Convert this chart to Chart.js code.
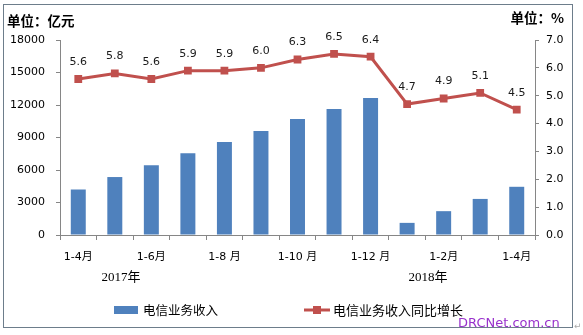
<!DOCTYPE html>
<html>
<head>
<meta charset="utf-8">
<script src="https://cdn.jsdelivr.net/npm/chart.js@4/dist/chart.umd.min.js"></script>
<style>
  body { margin: 0; background: #fff; }
</style>
</head>
<body>
<canvas id="telecomChart" width="583" height="335"></canvas>
<script>
// 累计月份
const months = ["1-4月", "1-5月", "1-6月", "1-7月", "1-8 月", "1-9月", "1-10 月", "1-11月", "1-12 月", "1月", "1-2月", "1-3月", "1-4月"];
// 电信业务收入（亿元）
const revenue = [4200, 5350, 6450, 7550, 8580, 9600, 10700, 11630, 12640, 1120, 2200, 3330, 4450];
// 同比增长（%）
const growth = [5.6, 5.8, 5.6, 5.9, 5.9, 6.0, 6.3, 6.5, 6.4, 4.7, 4.9, 5.1, 4.5];
// 坐标轴刻度
const leftTicks = [0, 3000, 6000, 9000, 12000, 15000, 18000];
const rightTicks = [0, 1, 2, 3, 4, 5, 6, 7];
// 年份标注
const years = [{ text: "2017年", at: 1.17 }, { text: "2018年", at: 9.57 }];

const BLUE = "#4F81BD";
const RED = "#C0504D";
const AXIS = "#868686";
const NUM_FONT = "'DejaVu Sans', 'Noto Sans CJK SC', sans-serif";
const CJK_FONT = "'Noto Sans CJK SC', sans-serif";

// 数据标签、年份、图例、边框等
const extras = {
  id: "extras",
  afterDatasetsDraw(chart) {
    const ctx = chart.ctx;
    const meta = chart.getDatasetMeta(0);
    ctx.save();
    ctx.fillStyle = "#1a1a1a";
    ctx.font = "11px " + NUM_FONT;
    ctx.textAlign = "center";
    ctx.textBaseline = "middle";
    meta.data.forEach((pt, i) => {
      ctx.fillText(growth[i].toFixed(1), pt.x, pt.y - 17);
    });
    ctx.restore();
  },
  afterDraw(chart) {
    const ctx = chart.ctx;
    const x = chart.scales.x;
    ctx.save();

    // 边框
    ctx.strokeStyle = "#6d7d8b";
    ctx.lineWidth = 1;
    ctx.strokeRect(3.5, 4.5, 569, 323);

    // 单位
    ctx.fillStyle = "#000";
    ctx.font = "bold 13.5px " + CJK_FONT;
    ctx.textBaseline = "middle";
    ctx.textAlign = "left";
    ctx.fillText("单位：亿元", 7, 21);
    ctx.textAlign = "right";
    ctx.fillText("单位：%", 564, 18);

    // 年份
    ctx.font = "13px 'Liberation Serif', 'Noto Sans CJK SC', serif";
    ctx.textAlign = "center";
    years.forEach(y => {
      ctx.fillText(y.text, x.getPixelForValue(y.at), 278);
    });

    // 图例
    const ds = chart.data.datasets;
    ctx.font = "12.5px " + CJK_FONT;
    ctx.textAlign = "left";
    ctx.fillStyle = BLUE;
    ctx.fillRect(114, 306, 24, 8);
    ctx.fillStyle = "#000";
    ctx.fillText(ds[1].label, 143, 310);
    ctx.strokeStyle = RED;
    ctx.lineWidth = 3;
    ctx.beginPath();
    ctx.moveTo(304, 310);
    ctx.lineTo(330, 310);
    ctx.stroke();
    ctx.fillStyle = RED;
    ctx.fillRect(313, 306, 8, 8);
    ctx.fillStyle = "#000";
    ctx.font = "13px " + CJK_FONT;
    ctx.fillText(ds[0].label, 333, 310);

    // 水印
    ctx.fillStyle = "#9932CC";
    ctx.font = "13px " + NUM_FONT;
    ctx.textAlign = "left";
    ctx.textBaseline = "alphabetic";
    ctx.fillText("DRCNet.com.cn", 458, 327);
    ctx.fillStyle = "#aaa";
    ctx.font = "9px " + NUM_FONT;
    ctx.fillText("↵", 574, 329);
    ctx.restore();
  }
};

new Chart(document.getElementById("telecomChart"), {
  type: "bar",
  data: {
    labels: months,
    datasets: [
      {
        type: "line",
        label: "电信业务收入同比增长",
        data: growth,
        yAxisID: "y1",
        borderColor: RED,
        backgroundColor: RED,
        borderWidth: 3,
        pointStyle: "rect",
        pointRadius: 5.5,
        pointBorderWidth: 0,
        tension: 0,
        order: 0
      },
      {
        label: "电信业务收入",
        data: revenue,
        yAxisID: "y",
        backgroundColor: BLUE,
        barPercentage: 0.41,
        categoryPercentage: 1,
        order: 1
      }
    ]
  },
  options: {
    responsive: false,
    animation: false,
    layout: { padding: { left: 0, right: 0, top: 40, bottom: 45 } },
    plugins: {
      legend: { display: false },
      tooltip: { enabled: false }
    },
    scales: {
      x: {
        offset: true,
        grid: { offset: true, drawOnChartArea: false, color: AXIS, tickLength: 5 },
        border: { color: AXIS },
        ticks: {
          autoSkip: false,
          maxRotation: 0,
          padding: 11,
          color: "#000",
          font: { family: NUM_FONT, size: 11 },
          callback: (v, i) => (i % 2 === 0 ? months[i] : "")
        },
        afterFit: s => { s.height = 55; }
      },
      y: {
        position: "left",
        min: leftTicks[0],
        max: leftTicks[leftTicks.length - 1],
        afterBuildTicks: s => { s.ticks = leftTicks.map(v => ({ value: v })); },
        grid: { drawOnChartArea: false, color: AXIS, tickLength: 4 },
        border: { color: AXIS },
        ticks: {
          padding: 11,
          color: "#000",
          font: { family: NUM_FONT, size: 11 },
          callback: v => String(v)
        },
        afterFit: s => { s.width = 60; }
      },
      y1: {
        position: "right",
        min: rightTicks[0],
        max: rightTicks[rightTicks.length - 1],
        afterBuildTicks: s => { s.ticks = rightTicks.map(v => ({ value: v })); },
        grid: { drawOnChartArea: false, color: AXIS, tickLength: 4 },
        border: { color: AXIS },
        ticks: {
          padding: 7,
          color: "#000",
          font: { family: NUM_FONT, size: 11 },
          callback: v => v.toFixed(1)
        },
        afterFit: s => { s.width = 48; }
      }
    }
  },
  plugins: [extras]
});
</script>
</body>
</html>
